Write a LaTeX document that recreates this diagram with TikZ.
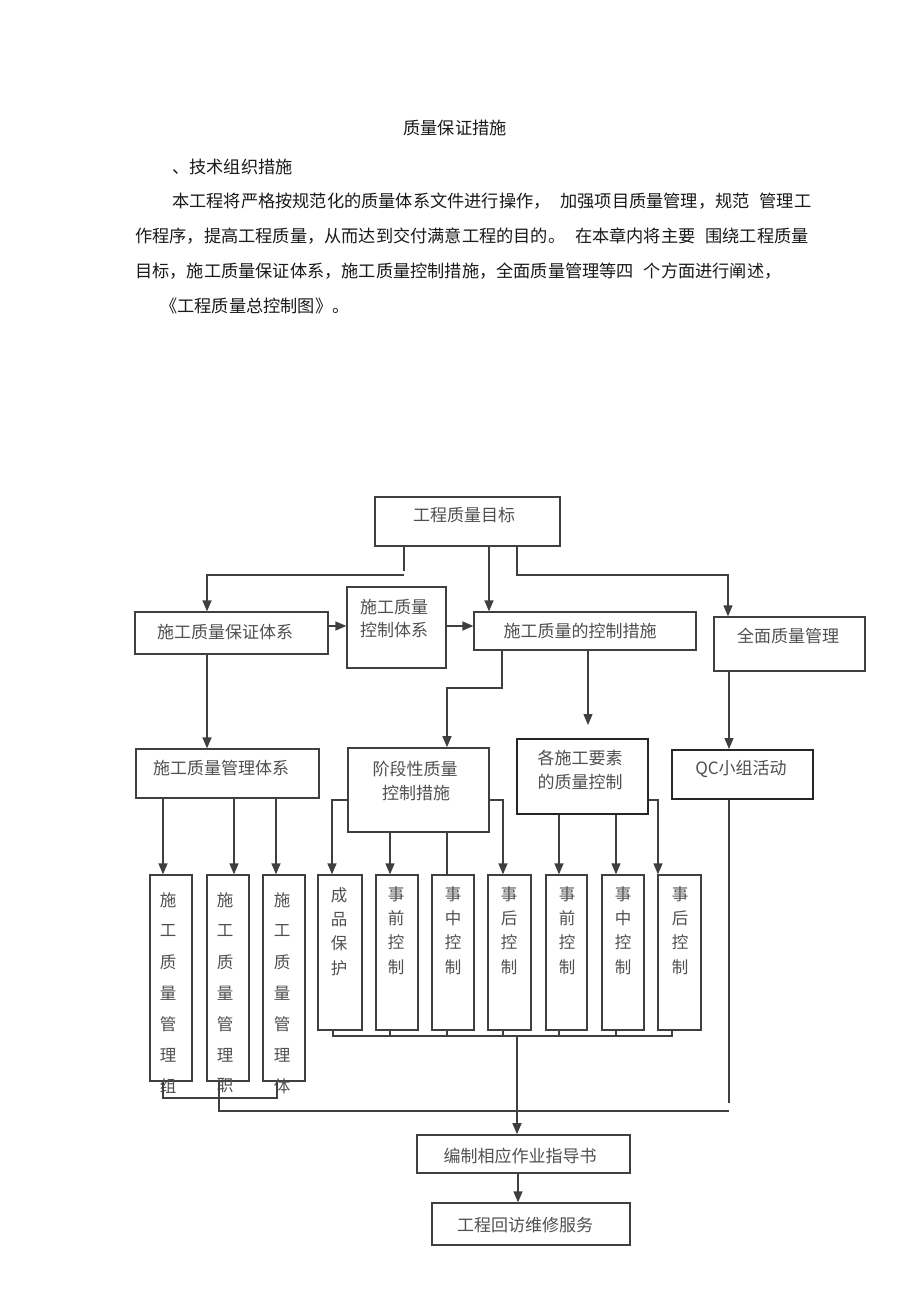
\documentclass[tikz,border=0pt]{standalone}
\usepackage{fontspec}
\setmainfont{Noto Sans CJK SC}
\usetikzlibrary{arrows.meta,fit}
\definecolor{ln}{HTML}{3F3F3F}
\definecolor{tx}{HTML}{505050}
\definecolor{bodytx}{HTML}{1A1A1A}
\tikzset{
  box/.style={draw=ln, line width=1.3pt, inner sep=0pt},
  boxb/.style={draw=ln!60!black, line width=2pt, inner sep=0pt},
  lbl/.style={text=tx, font=\fontsize{17pt}{20pt}\selectfont, inner sep=0pt},
  vl/.style={text=tx, font=\fontsize{16.5pt}{18pt}\selectfont, inner sep=0pt},
  bt/.style={text=bodytx, font=\fontsize{17.2pt}{20pt}\selectfont, inner sep=0pt},
  con/.style={draw=ln, line width=1.3pt},
  arr/.style={con, -{Triangle[length=11pt,width=9pt]}}
}
\begin{document}
\begin{tikzpicture}[x=1pt,y=-1pt]
\fill[white] (0,0) rectangle (920,1303);
\useasboundingbox (0,0) rectangle (920,1303);

% ---- body text ----
\node[bt] (title) at (455,128) {质量保证措施};
\node[bt, anchor=west] (sub) at (172,167) {、技术组织措施};
\node[bt, anchor=west] (p1) at (172,201) {本工程将严格按规范化的质量体系文件进行操作，\hspace{10pt}加强项目质量管理，规范\hspace{10pt}管理工};
\node[bt, anchor=west] (p2) at (135,236) {作程序，提高工程质量，从而达到交付满意工程的目的。\hspace{10pt}在本章内将主要\hspace{10pt}围绕工程质量};
\node[bt, anchor=west] (p3) at (135,271) {目标，施工质量保证体系，施工质量控制措施，全面质量管理等四\hspace{10pt}个方面进行阐述，};
\node[bt, anchor=west] (p4) at (160,306) {《工程质量总控制图》。};

% ---- top level ----
\node[box, fit={(375,497)(560,546)}] (T) {};
\node[lbl] (Tt) at (464,515) {工程质量目标};

\node[box, fit={(135,612)(328,654)}] (A) {};
\node[lbl] (At) at (225,632) {施工质量保证体系};

\node[box, fit={(347,587)(446,668)}] (B) {};
\node[lbl] (Bt1) at (394,607) {施工质量};
\node[lbl] (Bt2) at (394,630) {控制体系};

\node[box, fit={(474,612)(696,650)}] (C) {};
\node[lbl] (Ct) at (580,631) {施工质量的控制措施};

\node[box, fit={(714,617)(865,671)}] (D) {};
\node[lbl] (Dt) at (788,636) {全面质量管理};

% ---- second level ----
\node[box, fit={(136,749)(319,798)}] (E) {};
\node[lbl] (Et) at (221,768) {施工质量管理体系};

\node[box, line width=1.6pt, fit={(348,748)(489,832)}] (F) {};
\node[lbl] (Ft1) at (415,769) {阶段性质量};
\node[lbl] (Ft2) at (416,793) {控制措施};

\node[boxb, fit={(517,739)(648,814)}] (G) {};
\node[lbl] (Gt1) at (580,758) {各施工要素};
\node[lbl] (Gt2) at (580,782) {的质量控制};

\node[boxb, fit={(672,750)(813,799)}] (H) {};
\node[lbl] (Ht) at (741,769) {QC小组活动};

% ---- third level: vertical boxes ----
\node[box, fit={(150,875)(192,1081)}] (L1) {};
\node[box, fit={(207,875)(249,1081)}] (L2) {};
\node[box, fit={(263,875)(305,1081)}] (L3) {};
\foreach \c [count=\i from 0] in {施,工,质,量,管,理,组} \node[vl] (la\i) at (168,{900+31*\i}) {\c};
\foreach \c [count=\i from 0] in {施,工,质,量,管,理,职} \node[vl] (lb\i) at (225,{900+31*\i}) {\c};
\foreach \c [count=\i from 0] in {施,工,质,量,管,理,体} \node[vl] (lc\i) at (282,{900+31*\i}) {\c};

\node[box, fit={(318,875)(362,1030)}] (M1) {};
\node[box, fit={(376,875)(418,1030)}] (M2) {};
\node[box, fit={(432,875)(474,1030)}] (M3) {};
\node[box, fit={(488,875)(531,1030)}] (M4) {};
\node[box, fit={(546,875)(587,1030)}] (M5) {};
\node[box, fit={(602,875)(644,1030)}] (M6) {};
\node[box, fit={(658,875)(701,1030)}] (M7) {};
\foreach \c [count=\i from 0] in {成,品,保,护} \node[vl] (ma\i) at (339,{895+24.3*\i}) {\c};
\foreach \c [count=\i from 0] in {事,前,控,制} \node[vl] (mb\i) at (396,{894+24.3*\i}) {\c};
\foreach \c [count=\i from 0] in {事,中,控,制} \node[vl] (mc\i) at (453,{894+24.3*\i}) {\c};
\foreach \c [count=\i from 0] in {事,后,控,制} \node[vl] (md\i) at (509,{894+24.3*\i}) {\c};
\foreach \c [count=\i from 0] in {事,前,控,制} \node[vl] (me\i) at (567,{894+24.3*\i}) {\c};
\foreach \c [count=\i from 0] in {事,中,控,制} \node[vl] (mf\i) at (623,{894+24.3*\i}) {\c};
\foreach \c [count=\i from 0] in {事,后,控,制} \node[vl] (mg\i) at (680,{894+24.3*\i}) {\c};

% ---- bottom ----
\node[box, line width=1.6pt, fit={(417,1135)(630,1173)}] (I) {};
\node[lbl] (It) at (520,1156) {编制相应作业指导书};
\node[box, fit={(432,1203)(630,1245)}] (J) {};
\node[lbl] (Jt) at (525,1225) {工程回访维修服务};

% ---- connectors ----
\coordinate (tl) at (404,575);
\coordinate (tr) at (517,575);
\draw[con] (T.south -| 404,0) -- (404,571);
\draw[arr] (tl) -| (A.north -| 207,0);
\draw[arr] (T.south -| 489,0) -- (C.north -| 489,0);
\draw[arr] (T.south -| 517,0) -- (tr) -| (D.north -| 728,0);
\draw[arr] (A.east |- 0,626) -- (B.west |- 0,626);
\draw[arr] (B.east |- 0,626) -- (C.west |- 0,626);
\draw[arr] (C.south -| 502,0) |- (447,688) -- (F.north -| 447,0);
\coordinate (ge) at (588,725);
\draw[arr] (C.south -| 588,0) -- (ge);
\draw[arr] (D.south -| 729,0) -- (H.north -| 729,0);
\draw[arr] (A.south -| 207,0) -- (E.north -| 207,0);

\draw[arr] (E.south -| 163,0) -- (L1.north -| 163,0);
\draw[arr] (E.south -| 234,0) -- (L2.north -| 234,0);
\draw[arr] (E.south -| 276,0) -- (L3.north -| 276,0);

\draw[arr] (F.west |- 0,800) -| (M1.north -| 332,0);
\draw[arr] (F.south -| 390,0) -- (M2.north -| 390,0);
\draw[con] (F.south -| 447,0) -- (M3.north -| 447,0);
\draw[arr] (F.east |- 0,800) -| (M4.north -| 503,0);
\draw[arr] (G.south -| 559,0) -- (M5.north -| 559,0);
\draw[arr] (G.south -| 616,0) -- (M6.north -| 616,0);
\draw[arr] (G.east |- 0,800) -| (M7.north -| 658,0);

\coordinate (qe) at (729,1103);
\draw[con, line width=2pt] (H.south -| 729,0) -- (qe);

\draw[con] (M1.south -| 333,0) -- (333,1036) -- (672,1036) -- (M7.south -| 672,0);
\draw[con] (M2.south -| 390,0) -- (390,1036);
\draw[con] (M3.south -| 447,0) -- (447,1036);
\draw[con] (M4.south -| 503,0) -- (503,1036);
\draw[con] (M5.south -| 559,0) -- (559,1036);
\draw[con] (M6.south -| 616,0) -- (616,1036);
\draw[arr] (517,1036) -- (I.north -| 517,0);

\draw[con] (L1.south -| 163,0) -- (163,1098) -- (277,1098) -- (L3.south -| 277,0);
\draw[con] (L2.south -| 219,0) -- (219,1111) -- (729,1111);

\draw[arr] (I.south -| 518,0) -- (J.north -| 518,0);
\end{tikzpicture}
\end{document}
